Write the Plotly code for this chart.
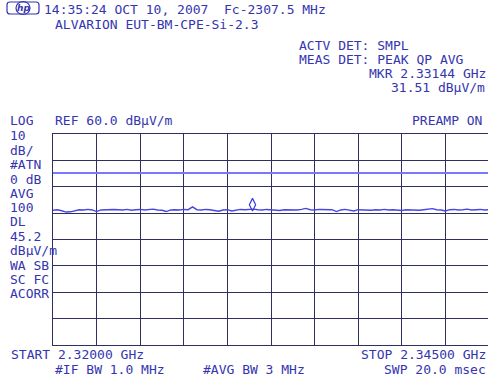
import numpy as np
import plotly.graph_objects as go

# ---- data -------------------------------------------------------------
start_ghz = 2.32000
stop_ghz = 2.34500
ref_level = 60.0
db_per_div = 10
dl_level = 45.2
mkr_freq_ghz = 2.33144
mkr_level = 31.51

trace_dbuv = [
    31.1, 31.3, 30.9, 30.4, 30.5, 31.0, 31.3, 31.2, 31.4, 31.2,
    30.6, 31.2, 31.3, 31.2, 31.4, 31.3, 31.2, 31.4, 31.1, 31.3,
    31.4, 31.2, 31.3, 31.5, 31.2, 31.1, 30.6, 31.2, 31.3, 31.2,
    31.4, 31.3, 32.4, 31.3, 31.2, 31.4, 31.3, 31.1, 30.7, 31.2,
    31.3, 30.8, 31.2, 31.4, 31.3, 31.5, 31.5, 31.3, 31.2, 31.4,
    31.3, 31.2, 31.0, 31.3, 31.2, 31.3, 31.2, 31.4, 31.8, 31.3,
    31.2, 31.4, 31.3, 31.2, 31.3, 30.6, 31.2, 31.4, 31.2, 30.8,
    31.3, 31.2, 31.3, 31.1, 31.3, 31.2, 31.4, 31.2, 31.3, 31.2,
    31.0, 31.3, 31.2, 31.3, 31.1, 31.3, 31.4, 31.7, 31.3, 31.2,
    30.8, 31.3, 31.4, 31.2, 31.3, 31.5, 31.2, 31.3, 31.4, 31.2,
    31.3,
]
freq_ghz = np.linspace(start_ghz, stop_ghz, len(trace_dbuv))

header_lines = ["14:35:24 OCT 10, 2007  Fc-2307.5 MHz", "ALVARION EUT-BM-CPE-Si-2.3"]
det_lines = ["ACTV DET: SMPL", "MEAS DET: PEAK QP AVG"]
mkr_lines = ["MKR 2.33144 GHz", "31.51 dBμV/m"]
left_labels = ["LOG", "10", "dB/", "#ATN", "0 dB", "AVG", "100", "DL", "45.2",
               "dBμV/m", "WA SB", "SC FC", "ACORR"]
ref_text = "REF 60.0 dBμV/m"
preamp_text = "PREAMP ON"
start_text = "START 2.32000 GHz"
stop_text = "STOP 2.34500 GHz"
ifbw_text = "#IF BW 1.0 MHz"
avgbw_text = "#AVG BW 3 MHz"
swp_text = "SWP 20.0 msec"

# ---- layout geometry ---------------------------------------------------
W, H = 488, 378
L, R, T, B = 53, 488, 134, 345
TXT = "#3535b0"
GRID = "#2e2e60"
FONT = "DejaVu Sans Mono"
FS = 13.0


def xp(px):
    return (px - L) / (R - L)


def yp(py):
    return (B - py) / (B - T)


fig = go.Figure()

fig.add_trace(go.Scatter(
    x=freq_ghz, y=trace_dbuv, mode="lines",
    line=dict(color="#4646e8", width=1.4), hoverinfo="skip", showlegend=False,
))
# marker diamond sits just above the trace point
fig.add_trace(go.Scatter(
    x=[mkr_freq_ghz], y=[mkr_level + 1.7], mode="markers",
    marker=dict(symbol="diamond-tall-open", size=9, color="#3a3ae0",
                line=dict(width=1.2, color="#3a3ae0")),
    hoverinfo="skip", showlegend=False,
))

shapes = [
    dict(type="line", xref="paper", yref="y", x0=0, x1=1, y0=dl_level, y1=dl_level,
         line=dict(color="#7878ff", width=2)),
]

# hp logo
lx0, lx1, ly0, ly1, rr = 7, 39, 2, 14, 3
path = (f"M {xp(lx0+rr)},{yp(ly0)} L {xp(lx1-rr)},{yp(ly0)} "
        f"Q {xp(lx1)},{yp(ly0)} {xp(lx1)},{yp(ly0+rr)} L {xp(lx1)},{yp(ly1-rr)} "
        f"Q {xp(lx1)},{yp(ly1)} {xp(lx1-rr)},{yp(ly1)} L {xp(lx0+rr)},{yp(ly1)} "
        f"Q {xp(lx0)},{yp(ly1)} {xp(lx0)},{yp(ly1-rr)} L {xp(lx0)},{yp(ly0+rr)} "
        f"Q {xp(lx0)},{yp(ly0)} {xp(lx0+rr)},{yp(ly0)} Z")
shapes.append(dict(type="path", xref="paper", yref="paper", path=path,
                   line=dict(color=TXT, width=1.2)))
shapes.append(dict(type="circle", xref="paper", yref="paper",
                   x0=xp(16), x1=xp(30), y0=yp(14.5), y1=yp(1.5),
                   line=dict(color=TXT, width=1.2)))

annotations = []


def add_text(text, px, py, anchor="left", size=FS, height=None):
    ann = dict(
        text=text, x=xp(px), y=yp(py), xref="paper", yref="paper",
        xanchor=anchor, yanchor="middle", showarrow=False,
        font=dict(family=FONT, size=size, color=TXT),
    )
    if height is not None:
        ann.update(height=height, borderpad=0, valign="middle")
    annotations.append(ann)


annotations.append(dict(text="<i><b>hp</b></i>", x=xp(23), y=yp(8), xref="paper", yref="paper",
                        xanchor="center", yanchor="middle", showarrow=False,
                        font=dict(family="DejaVu Sans", size=9, color=TXT)))

add_text(header_lines[0], 42, 10)
add_text(header_lines[1], 53, 24.5)
add_text(det_lines[0], 297, 46)
add_text(det_lines[1], 297, 59.5)
add_text(mkr_lines[0], 488, 73, anchor="right")
add_text(mkr_lines[1], 487, 87.5, anchor="right")
add_text(ref_text, 53, 120)
add_text(preamp_text, 410, 120)

row_y = [120, 135, 150, 164, 179, 192.7, 206.7, 221, 236, 250, 265, 278.5, 292.7]
for lab, yy in zip(left_labels, row_y):
    add_text(lab, 9, yy, height=14)

add_text(start_text, 9, 354)
add_text(ifbw_text, 53, 369)
add_text(avgbw_text, 201, 369)
add_text(stop_text, 488, 354, anchor="right")
add_text(swp_text, 488, 369, anchor="right")

fig.update_layout(
    width=W, height=H, autosize=False,
    margin=dict(l=L, r=W - R, t=T, b=H - B, pad=0),
    paper_bgcolor="white", plot_bgcolor="white",
    shapes=shapes, annotations=annotations, showlegend=False,
    xaxis=dict(range=[start_ghz, stop_ghz - (stop_ghz - start_ghz) / 436],
               tick0=start_ghz, dtick=(stop_ghz - start_ghz) / 10,
               showticklabels=False, ticks="", showgrid=True, gridcolor=GRID, gridwidth=1,
               zeroline=False, showline=True, linecolor=GRID, linewidth=1, mirror=True,
               fixedrange=True),
    yaxis=dict(range=[ref_level - 8 * db_per_div, ref_level], tick0=ref_level, dtick=db_per_div,
               showticklabels=False, ticks="", showgrid=True, gridcolor=GRID, gridwidth=1,
               zeroline=False, showline=True, linecolor=GRID, linewidth=1, mirror=False,
               fixedrange=True),
)

fig.write_html(
    "out.html",
    config={"displayModeBar": False},
    post_script="document.body.style.margin='0';document.body.style.overflow='hidden';",
)
